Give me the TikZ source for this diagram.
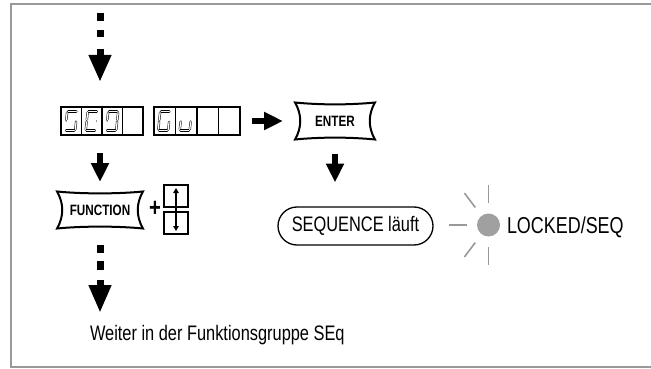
\documentclass[tikz,border=0pt]{standalone}
\usepackage{fontspec}
\setmainfont{Liberation Sans}[FakeStretch=0.78]
\usetikzlibrary{arrows.meta,calc}
\definecolor{framegray}{HTML}{999999}
\definecolor{ledgray}{HTML}{A0A0A0}
\newcommand\myfs[1]{\fontsize{#1}{#1}\selectfont}
\tikzset{
  frameline/.style={draw=framegray, line width=2pt},
  cellbox/.style={draw, line width=1.8pt, minimum width=#1, minimum height=28pt, inner sep=0pt, outer sep=0pt},
  seg/.style={draw=black, double=white, line width=0.5pt, double distance=1.3pt, line cap=round},
  keybox/.style={minimum width=#1, minimum height=37pt, inner sep=0pt, outer sep=0pt, font=\myfs{15}\bfseries},
  keyline/.style={draw, line width=2pt, line join=miter},
  fatarrow/.style={line width=6pt, -{Triangle[length=19pt,width=17pt]}},
  dasharrow/.style={line width=7pt, -{Triangle[length=#1,width=21pt]}},
  updown/.style={draw, line width=1.8pt, minimum width=24pt, minimum height=22pt, inner sep=0pt, outer sep=0pt},
  smallarrow/.style={line width=1.6pt, -{Triangle[length=5pt,width=5.5pt]}},
  ray/.style={draw=framegray, line width=1.6pt},
  txt/.style={inner sep=0pt, outer sep=0pt}
}
% seven-segment glyph in a cell whose top-left is (#1,#2); #3 = list of segment letters
\newcommand\sevenseg[3]{%
  \begin{scope}[shift={(#1,#2)}]
    \coordinate (TL) at (6.2,4.6); \coordinate (TR) at (16.2,4.6);
    \coordinate (ML) at (5.2,14); \coordinate (MR) at (15.2,14);
    \coordinate (BL) at (4.2,23.4); \coordinate (BR) at (14.2,23.4);
    \foreach \s in {#3}{%
      \if\s a\draw[seg] ($(TL)+(0.9,0)$) -- ($(TR)+(-0.9,0)$);\fi
      \if\s b\draw[seg] ($(TR)+(-0.1,0.9)$) -- ($(MR)+(0.1,-0.9)$);\fi
      \if\s c\draw[seg] ($(MR)+(-0.1,0.9)$) -- ($(BR)+(0.1,-0.9)$);\fi
      \if\s d\draw[seg] ($(BL)+(0.9,0)$) -- ($(BR)+(-0.9,0)$);\fi
      \if\s e\draw[seg] ($(ML)+(-0.1,0.9)$) -- ($(BL)+(0.1,-0.9)$);\fi
      \if\s f\draw[seg] ($(TL)+(-0.1,0.9)$) -- ($(ML)+(0.1,-0.9)$);\fi
      \if\s g\draw[seg] ($(ML)+(0.9,0)$) -- ($(MR)+(-0.9,0)$);\fi
    }
  \end{scope}}
% concave key outline around node #1
\newcommand\keyoutline[1]{%
  \draw[keyline] (#1.north west) .. controls +(25,2.5) and +(-25,2.5) .. (#1.north east)
    .. controls +(-7,12) and +(-7,-12) .. (#1.south east)
    .. controls +(-25,-2.5) and +(25,-2.5) .. (#1.south west)
    .. controls +(7,-12) and +(7,12) .. cycle;}
\begin{document}
\begin{tikzpicture}[x=1pt,y=-1pt]
\useasboundingbox (0,0) rectangle (651,369);
% frame
\draw[frameline] (651,4) -- (11,4) -- (11,367) -- (651,367);

% displays
\node[cellbox=82pt] (disp1) at (102,121) {};
\foreach \xx in {81.5,102,122.5} \draw[line width=1.8pt] (\xx,107) -- (\xx,135);
\node[cellbox=86pt] (disp2) at (197,121) {};
\foreach \xx in {175.5,197,218.5} \draw[line width=1.8pt] (\xx,107) -- (\xx,135);
\sevenseg{61}{107}{a,f,g,c,d}
\sevenseg{81.5}{107}{a,f,g,e,d}
\sevenseg{102}{107}{a,b,f,g,c,d}
\sevenseg{154}{107}{a,f,e,d,c}
\sevenseg{175.5}{107}{g,e,d,c}

% keys
\node[keybox=80pt] (enter) at (335,121) {ENTER};
\keyoutline{enter}
\node[keybox=86pt] (func) at (100,210) {FUNCTION};
\keyoutline{func}
\node[txt, font=\myfs{26}\bfseries] (plus) at (155,209) {+};
\node[updown] (up) at (176,196) {};
\node[updown] (down) at (176,223) {};
\draw[smallarrow] ([yshift=-4pt]up.south) -- ([yshift=-3pt]up.north);
\draw[smallarrow] ([yshift=4pt]down.north) -- ([yshift=3pt]down.south);

% sequence oval and LED
\node[draw, line width=1.3pt, rounded corners=19pt, minimum width=155pt, minimum height=38pt, inner sep=0pt, font=\myfs{21}] (seq) at (355.5,226) {SEQUENCE läuft};
\node[circle, fill=ledgray, minimum size=23pt, inner sep=0pt] (led) at (488.5,225) {};
\foreach \a in {90,127,180,233,270} \draw[ray] ($(led)+(\a:22pt)$) -- ($(led)+(\a:40pt)$);
\node[txt, anchor=base west, font=\myfs{23}] (locked) at (507,233) {LOCKED/SEQ};

% bottom text
\node[txt, anchor=base west, font=\myfs{21}] (weiter) at (90,340) {Weiter in der Funktionsgruppe SEq};

% arrows
\coordinate (topstart) at (100,13);
\coordinate (toptip) at (100,82);
\draw[dasharrow=27pt, dash pattern=on 8pt off 9pt on 7pt off 12pt on 40pt] (topstart) -- (toptip);
\draw[fatarrow] ([yshift=-18pt]disp1.south -| toptip) -- ([yshift=-47pt]disp1.south -| toptip);
\draw[fatarrow] ([xshift=12pt]disp2.east) -- ([xshift=-12pt]enter.west);
\draw[fatarrow] ([yshift=-14pt]enter.south) -- ([yshift=-43pt]enter.south);
\coordinate (botstart) at (100,245);
\coordinate (bottip) at (100,313);
\draw[dasharrow=28pt, dash pattern=on 8pt off 8pt on 9pt off 10pt on 40pt] (botstart) -- (bottip);
\end{tikzpicture}
\end{document}
